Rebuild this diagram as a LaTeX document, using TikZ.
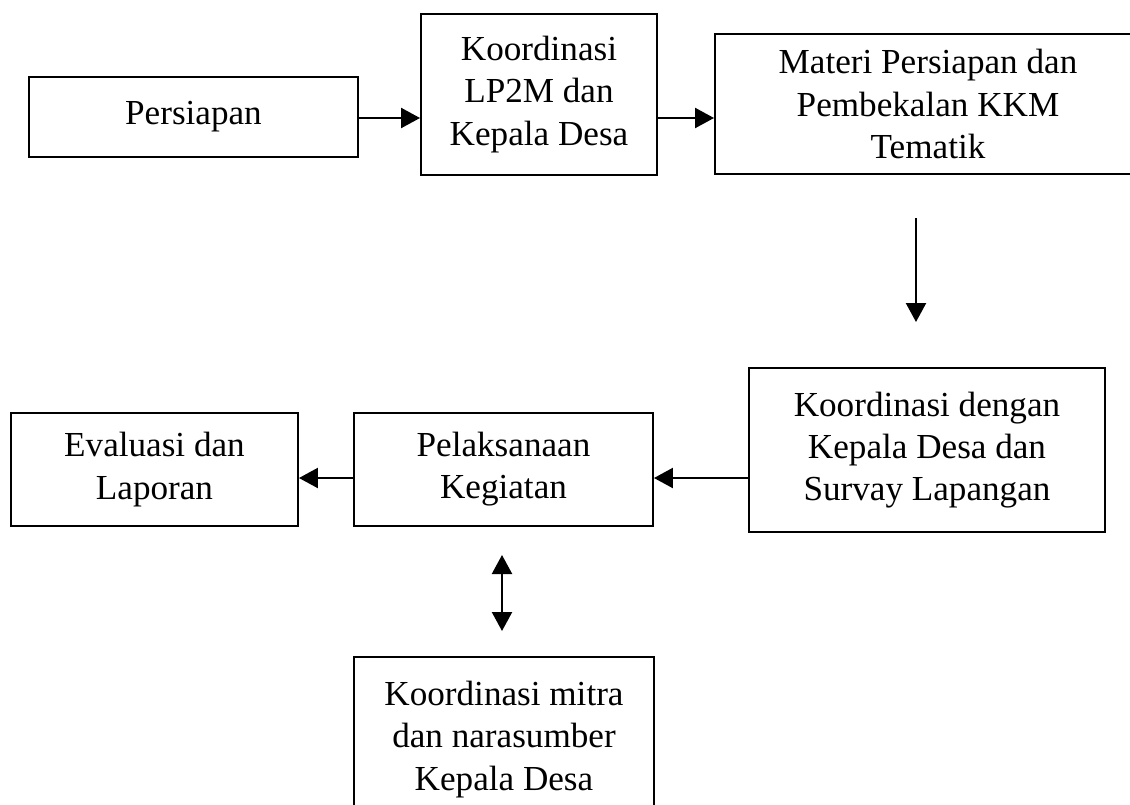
\documentclass[tikz,border=0pt]{standalone}
\usepackage{fontspec}
\setmainfont{Liberation Serif}
\usetikzlibrary{arrows.meta}

\begin{document}
\begin{tikzpicture}[
        x=0.02cm, y=-0.02cm,
        line width=1.1pt,
        boxsize/.style 2 args={minimum width=#1*0.02cm, minimum height=#2*0.02cm},
        ]
        \tikzstyle{stage} = [draw, align=center, inner sep=0pt, fill=white, font={\fontsize{20}{24}\selectfont}];
        \tikzstyle{flow} = [-{Triangle[length=0.38cm, width=0.4cm]}, line width=1.3pt];
        \tikzstyle{both} = [{Triangle[length=0.38cm, width=0.4cm]}-{Triangle[length=0.38cm, width=0.4cm]}, line width=1.3pt];
        \useasboundingbox (0,0) rectangle (1130,805);
        % top row
        \node[stage, boxsize={329}{80}] (prep) at (193.5,117) {Persiapan};
        \node[stage, boxsize={236}{161}] (lp2m) at (539,94.5) {Koordinasi\\LP2M dan\\Kepala Desa};
        \node[stage, boxsize={426}{140}] (materi) at (928,104) {Materi Persiapan dan\\Pembekalan KKM\\Tematik};
        % bottom row
        \node[stage, boxsize={356}{164}] (survey) at (927,450) {Koordinasi dengan\\Kepala Desa dan\\Survay Lapangan};
        \node[stage, boxsize={299}{113}] (pelaksanaan) at (503.5,469.5) {Pelaksanaan\\Kegiatan};
        \node[stage, boxsize={287}{113}] (evaluasi) at (154.5,469.5) {Evaluasi dan\\Laporan};
        \node[stage, boxsize={300}{165}] (mitra) at (504,739.5) {Koordinasi mitra\\dan narasumber\\Kepala Desa};
        % connectors
        \coordinate (toprow) at (0,118);
        \coordinate (midrow) at (0,478);
        \coordinate (drop top) at (916,218);
        \coordinate (drop end) at (916,322);
        \coordinate (link top) at (502,555);
        \coordinate (link end) at (502,631);
        \draw[flow] (prep.east |- toprow) -- (lp2m.west |- toprow);
        \draw[flow] (lp2m.east |- toprow) -- (materi.west |- toprow);
        \draw[flow] (drop top) -- (drop end);
        \draw[flow] (survey.west |- midrow) -- (pelaksanaan.east |- midrow);
        \draw[flow] (pelaksanaan.west |- midrow) -- (evaluasi.east |- midrow);
        \draw[both] (link top) -- (link end);
    \end{tikzpicture}
\end{document}
